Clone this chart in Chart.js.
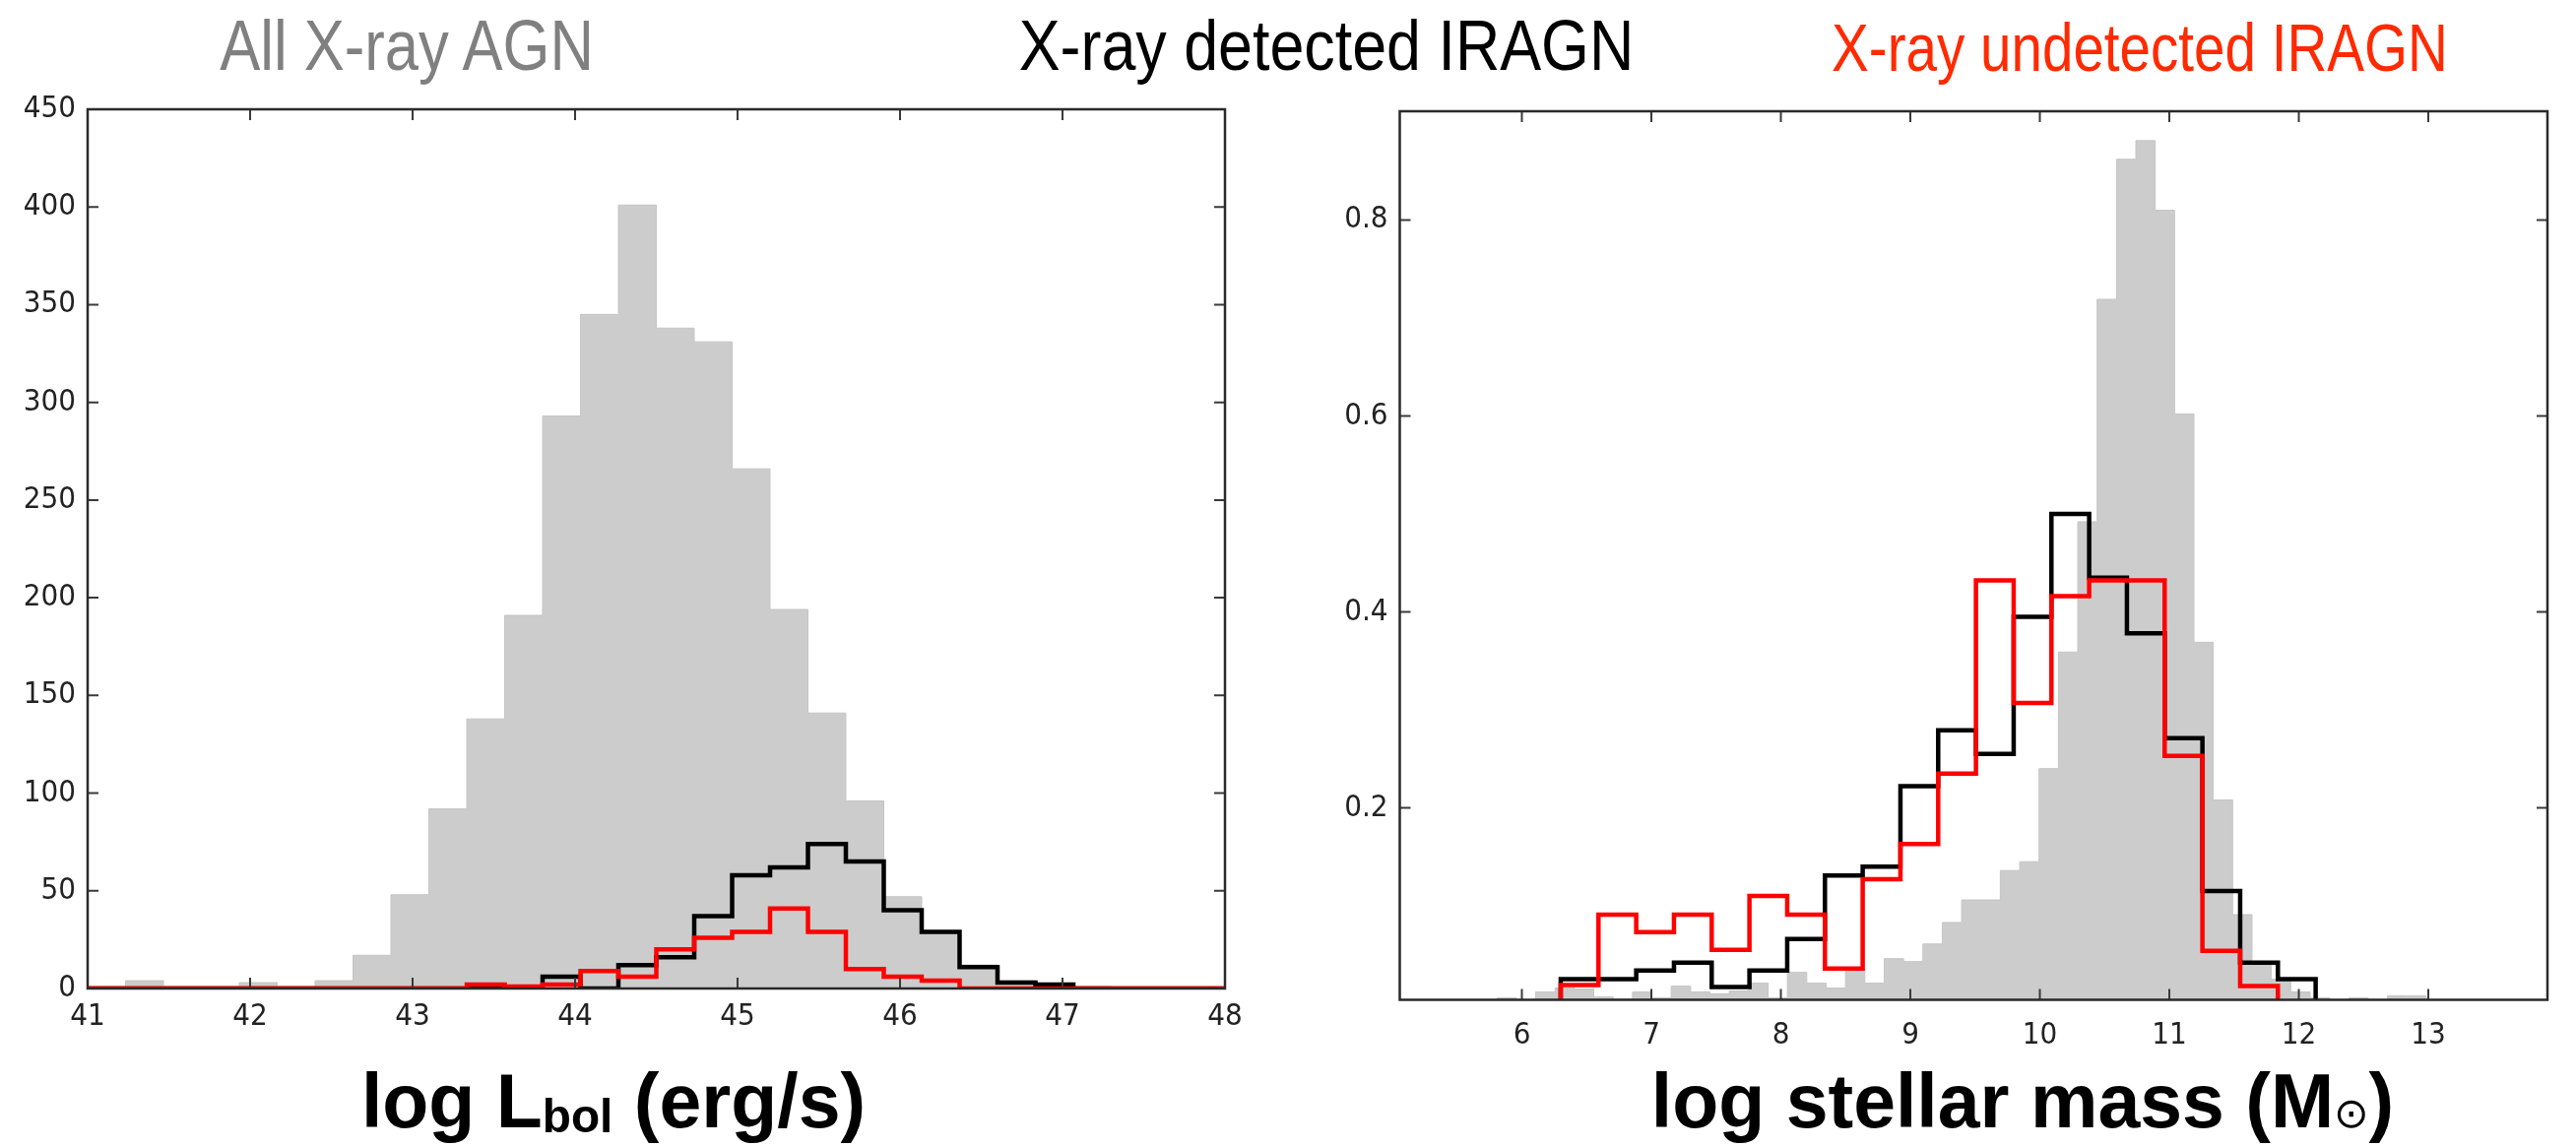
<!DOCTYPE html>
<html>
<head>
<meta charset="utf-8">
<script src="https://cdn.jsdelivr.net/npm/chart.js@4.4.0/dist/chart.umd.min.js"></script>
<style>
  html, body { margin: 0; padding: 0; background: #fff; }
  body { width: 2616px; height: 1165px; position: relative; overflow: hidden; font-family: "Liberation Sans", Arial, sans-serif; }
  .box { position: absolute; }
  #lbolBox { left: 0; top: 0; width: 1290px; height: 1090px; }
  #massBox { left: 1300px; top: 0; width: 1316px; height: 1100px; }
  .title { position: absolute; white-space: nowrap; line-height: 1; transform-origin: center; }
  .xlabel { position: absolute; white-space: nowrap; font-weight: bold; font-size: 77px; line-height: 77px; color: #000; transform: translateX(-50%); }
  .xlabel sub { font-size: 0.62em; vertical-align: -0.1em; line-height: 0; }
  .sun { font-family: "DejaVu Sans", sans-serif; font-weight: normal; font-size: 0.55em; }
</style>
</head>
<body>
<div class="title" id="t1" style="left:413px; top:10px; font-size:72px; color:#808080; transform:translateX(-50%) scaleX(0.855);">All X-ray AGN</div>
<div class="title" id="t2" style="left:1347px; top:10px; font-size:72px; color:#000; transform:translateX(-50%) scaleX(0.872);">X-ray detected IRAGN</div>
<div class="title" id="t3" style="left:2173px; top:14px; font-size:68px; color:#ff2a00; transform:translateX(-50%) scaleX(0.832);">X-ray undetected IRAGN</div>

<div class="box" id="lbolBox"><canvas id="lbolChart"></canvas></div>
<div class="box" id="massBox"><canvas id="massChart"></canvas></div>

<div class="xlabel" style="left:623px; top:1080px;">log L<sub>bol</sub> (erg/s)</div>
<div class="xlabel" style="left:2054px; top:1080px;">log stellar mass (M<span class="sun">⊙</span>)</div>

<script>
// left panel: log Lbol histograms, 30 bins from 41 to 48
const lbolStart = 41;
const lbolWidth = 7 / 30;
const lbolTicksX = [41, 42, 43, 44, 45, 46, 47, 48];
const lbolTicksY = [0, 50, 100, 150, 200, 250, 300, 350, 400, 450];
const lbolAll = [1, 4, 1, 1, 3, 1, 4, 17, 48, 92, 138, 191, 293, 345, 401, 338, 331, 266, 194, 141, 96, 47, 29, 12, 4, 2, 1, 0, 0, 0];
const lbolDetected = [0, 0, 0, 0, 0, 0, 0, 0, 0, 0, 0, 0, 6, 0, 12, 16, 37, 58, 62, 74, 65, 40, 29, 11, 3, 2, 0, 0, 0, 0];
const lbolUndetected = [0, 0, 0, 0, 0, 0, 0, 0, 0, 0, 2, 1, 2, 9, 6, 20, 26, 29, 41, 29, 10, 6, 4, 0, 0, 0, 0, 0, 0, 0];

// right panel: log stellar mass (normalised)
const massAllStart = 5.808;
const massAllWidth = 0.1495;
const massAll = [0.006, 0.003, 0.012, 0.016, 0.015, 0.007, 0.005, 0.012, 0.006, 0.018, 0.012, 0.010,
                 0.013, 0.021, 0.006, 0.032, 0.021, 0.016, 0.034, 0.021, 0.046, 0.043, 0.061, 0.083,
                 0.106, 0.106, 0.136, 0.145, 0.240, 0.359, 0.492, 0.719, 0.862, 0.881, 0.810, 0.602,
                 0.369, 0.208, 0.091, 0.040, 0.025, 0.012, 0.006, 0.004, 0.006, 0.003, 0.008, 0.008];
const massIrStart = 6.30;
const massIrWidth = 0.2915;
const massDetected = [0.025, 0.025, 0.034, 0.042, 0.017, 0.034, 0.066, 0.131, 0.140, 0.222,
                      0.279, 0.255, 0.395, 0.500, 0.435, 0.378, 0.271, 0.115, 0.042, 0.025];
const massUndetected = [0.019, 0.091, 0.073, 0.091, 0.055, 0.110, 0.091, 0.036, 0.127, 0.163,
                        0.235, 0.432, 0.307, 0.416, 0.432, 0.432, 0.253, 0.054, 0.018, 0];
const massTicksX = [6, 7, 8, 9, 10, 11, 12, 13];
const massTicksY = [0.2, 0.4, 0.6, 0.8];

// outline of a histogram as a stepped line (matplotlib histtype='step')
function stepPoints(start, width, values) {
    const pts = [{x: start, y: 0}];
    values.forEach((v, i) => pts.push({x: start + i * width, y: v}));
    const end = start + values.length * width;
    pts.push({x: end, y: values[values.length - 1]});
    pts.push({x: end, y: 0});
    return pts;
}

// box round the plot with inward ticks on all four sides
const frameTicks = {
    id: 'frameTicks',
    afterDatasetsDraw(chart, args, opts) {
        const ctx = chart.ctx;
        const a = chart.chartArea;
        const sx = chart.scales.x, sy = chart.scales.y;
        ctx.save();
        ctx.strokeStyle = '#3a3a3a';
        ctx.lineWidth = 2;
        ctx.beginPath();
        sx.ticks.forEach(t => {
            const px = sx.getPixelForValue(t.value);
            ctx.moveTo(px, a.bottom); ctx.lineTo(px, a.bottom - opts.len);
            ctx.moveTo(px, a.top); ctx.lineTo(px, a.top + opts.len);
        });
        sy.ticks.forEach(t => {
            const py = sy.getPixelForValue(t.value);
            ctx.moveTo(a.left, py); ctx.lineTo(a.left + opts.len, py);
            ctx.moveTo(a.right, py); ctx.lineTo(a.right - opts.len, py);
        });
        ctx.stroke();
        ctx.lineWidth = 2.5;
        ctx.strokeStyle = '#2a2a2a';
        ctx.strokeRect(a.left, a.top, a.right - a.left, a.bottom - a.top);
        ctx.restore();
    }
};

function tickFont() {
    return {family: '"DejaVu Sans Condensed", "DejaVu Sans", sans-serif', size: 31};
}

function makeChart(id, cfg) {
    const ctx = document.getElementById(id).getContext('2d');
    return new Chart(ctx, {
        type: 'line',
        data: {
            datasets: [
                {
                    label: 'All X-ray AGN',
                    data: stepPoints(cfg.allStart, cfg.allWidth, cfg.all),
                    stepped: 'before',
                    borderColor: '#c6c6c6',
                    borderWidth: 1,
                    backgroundColor: 'rgb(204, 204, 204)',
                    fill: 'origin',
                    pointRadius: 0,
                    order: 3
                },
                {
                    label: 'X-ray detected IRAGN',
                    data: stepPoints(cfg.irStart, cfg.irWidth, cfg.detected),
                    stepped: 'before',
                    borderColor: '#000000',
                    borderWidth: 4.5,
                    fill: false,
                    pointRadius: 0,
                    order: 2
                },
                {
                    label: 'X-ray undetected IRAGN',
                    data: stepPoints(cfg.irStart, cfg.irWidth, cfg.undetected),
                    stepped: 'before',
                    borderColor: '#ff0000',
                    borderWidth: 4.5,
                    fill: false,
                    pointRadius: 0,
                    order: 1
                }
            ]
        },
        options: {
            responsive: true,
            maintainAspectRatio: false,
            animation: false,
            events: [],
            layout: {padding: cfg.padding},
            plugins: {
                legend: {display: false},
                tooltip: {enabled: false},
                frameTicks: {len: 11}
            },
            scales: {
                x: {
                    type: 'linear',
                    min: cfg.xMin,
                    max: cfg.xMax,
                    bounds: 'data',
                    grid: {display: false, drawTicks: false},
                    border: {display: false},
                    afterBuildTicks: s => { s.ticks = cfg.ticksX.map(v => ({value: v})); },
                    afterFit: s => { s.height = cfg.xHeight; },
                    ticks: {
                        padding: cfg.xPad,
                        autoSkip: false,
                        maxRotation: 0,
                        color: '#222',
                        font: tickFont(),
                        callback: v => String(v)
                    }
                },
                y: {
                    type: 'linear',
                    min: cfg.yMin,
                    max: cfg.yMax,
                    bounds: 'data',
                    grid: {display: false, drawTicks: false},
                    border: {display: false},
                    afterBuildTicks: s => { s.ticks = cfg.ticksY.map(v => ({value: v})); },
                    afterFit: s => { s.width = cfg.yWidth; },
                    ticks: {
                        padding: 12,
                        autoSkip: false,
                        color: '#222',
                        font: tickFont(),
                        callback: cfg.yFormat
                    }
                }
            }
        },
        plugins: [frameTicks]
    });
}

makeChart('lbolChart', {
    allStart: lbolStart, allWidth: lbolWidth, all: lbolAll,
    irStart: lbolStart, irWidth: lbolWidth,
    detected: lbolDetected, undetected: lbolUndetected,
    xMin: 41, xMax: 48, yMin: 0, yMax: 450,
    ticksX: lbolTicksX, ticksY: lbolTicksY,
    yFormat: v => String(v),
    padding: {left: 0, right: 46, top: 111, bottom: 0},
    xHeight: 86, yWidth: 89, xPad: 10
});

makeChart('massChart', {
    allStart: massAllStart, allWidth: massAllWidth, all: massAll,
    irStart: massIrStart, irWidth: massIrWidth,
    detected: massDetected, undetected: massUndetected,
    xMin: 5.057, xMax: 13.92, yMin: 0.004, yMax: 0.911,
    ticksX: massTicksX, ticksY: massTicksY,
    yFormat: v => v.toFixed(1),
    padding: {left: 0, right: 29, top: 113, bottom: 0},
    xHeight: 84.5, yWidth: 121.5, xPad: 18
});
</script>
</body>
</html>
